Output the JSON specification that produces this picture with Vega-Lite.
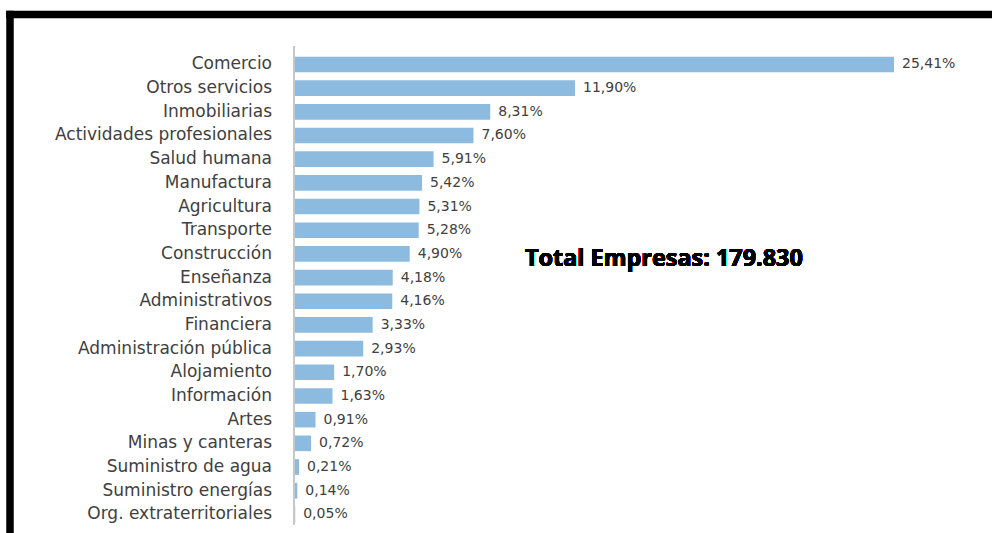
{
  "$schema": "https://vega.github.io/schema/vega-lite/v6.json",
  "width": 982.5,
  "height": 519,
  "autosize": {"type": "none"},
  "padding": {"left": 9.5, "top": 14, "right": 0, "bottom": 0},
  "background": "white",
  "config": {
    "view": {"stroke": null},
    "font": "DejaVu Sans",
    "axis": {"domainCap": "square"}
  },
  "data": {
    "values": [
      {"cat": "Comercio", "val": 25.41, "lbl": "25,41%"},
      {"cat": "Otros servicios", "val": 11.90, "lbl": "11,90%"},
      {"cat": "Inmobiliarias", "val": 8.31, "lbl": "8,31%"},
      {"cat": "Actividades profesionales", "val": 7.60, "lbl": "7,60%"},
      {"cat": "Salud humana", "val": 5.91, "lbl": "5,91%"},
      {"cat": "Manufactura", "val": 5.42, "lbl": "5,42%"},
      {"cat": "Agricultura", "val": 5.31, "lbl": "5,31%"},
      {"cat": "Transporte", "val": 5.28, "lbl": "5,28%"},
      {"cat": "Construcción", "val": 4.90, "lbl": "4,90%"},
      {"cat": "Enseñanza", "val": 4.18, "lbl": "4,18%"},
      {"cat": "Administrativos", "val": 4.16, "lbl": "4,16%"},
      {"cat": "Financiera", "val": 3.33, "lbl": "3,33%"},
      {"cat": "Administración pública", "val": 2.93, "lbl": "2,93%"},
      {"cat": "Alojamiento", "val": 1.70, "lbl": "1,70%"},
      {"cat": "Información", "val": 1.63, "lbl": "1,63%"},
      {"cat": "Artes", "val": 0.91, "lbl": "0,91%"},
      {"cat": "Minas y canteras", "val": 0.72, "lbl": "0,72%"},
      {"cat": "Suministro de agua", "val": 0.21, "lbl": "0,21%"},
      {"cat": "Suministro energías", "val": 0.14, "lbl": "0,14%"},
      {"cat": "Org. extraterritoriales", "val": 0.05, "lbl": "0,05%"}
    ]
  },
  "encoding": {
    "y": {
      "field": "cat",
      "type": "nominal",
      "sort": null,
      "scale": {"paddingInner": 0.083, "paddingOuter": 1, "align": 0.836, "round": false},
      "axis": {"orient": "left", "title": null, "labels": false, "ticks": false, "grid": false, "domainColor": "black", "domainWidth": 7.5}
    }
  },
  "layer": [
    {
      "mark": {"type": "bar", "color": "#8DBBE0", "height": {"band": 0.72}},
      "encoding": {
        "x": {
          "field": "val",
          "type": "quantitative",
          "scale": {"domain": [-12.05, 29.56], "nice": false, "zero": false},
          "axis": {"orient": "top", "title": null, "labels": false, "ticks": false, "grid": false, "domainColor": "black", "domainWidth": 7.7}
        }
      }
    },
    {
      "mark": {"type": "rule", "color": "#C8C8C8", "strokeWidth": 1},
      "encoding": {
        "x": {"datum": 0, "type": "quantitative"},
        "y": {"datum": "Comercio", "type": "nominal", "bandPosition": -0.35, "axis": {"orient": "left", "title": null, "labels": false, "ticks": false, "grid": false, "domainColor": "black", "domainWidth": 7.5}},
        "y2": {"datum": "Org. extraterritoriales", "bandPosition": 0.96}
      }
    },
    {
      "mark": {"type": "text", "align": "right", "baseline": "middle", "dx": -22, "fontSize": 17, "color": "#404040"},
      "encoding": {
        "x": {"datum": 0, "type": "quantitative"},
        "text": {"field": "cat"}
      }
    },
    {
      "mark": {"type": "text", "align": "left", "baseline": "middle", "dx": 8, "fontSize": 14, "color": "#404040"},
      "encoding": {
        "x": {"field": "val", "type": "quantitative"},
        "text": {"field": "lbl"}
      }
    },
    {
      "mark": {"type": "text", "align": "left", "baseline": "alphabetic", "dy": 12.6, "font": "Open Sans", "fontSize": 23.4, "fontWeight": "bold", "color": "black"},
      "encoding": {
        "x": {"datum": 9.78, "type": "quantitative"},
        "y": {"datum": "Construcción", "type": "nominal", "axis": {"orient": "left", "title": null, "labels": false, "ticks": false, "grid": false, "domainColor": "black", "domainWidth": 7.5}},
        "text": {"value": "Total Empresas: 179.830"}
      }
    }
  ]
}
